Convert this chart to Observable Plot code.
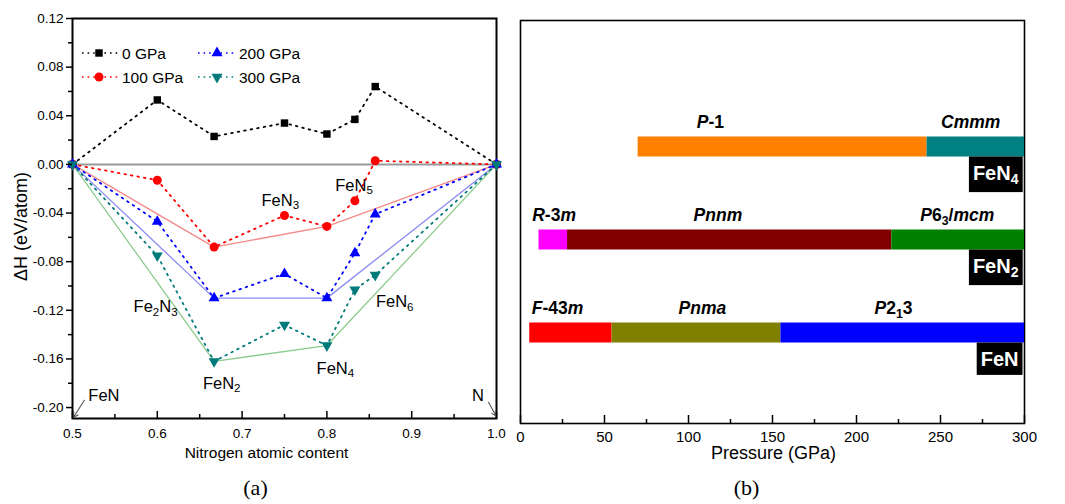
<!DOCTYPE html>
<html><head><meta charset="utf-8">
<script src="https://cdn.jsdelivr.net/npm/d3@7"></script>
<script src="https://cdn.jsdelivr.net/npm/@observablehq/plot@0.6"></script>
<style>
body{margin:0;background:#fff;}
#wrap{position:relative;width:1065px;height:504px;overflow:hidden;font-family:"Liberation Sans",Arial,sans-serif;}
#wrap > svg{position:absolute;top:0;}
</style></head><body><div id="wrap"></div>
<script>
// ---------------- data: panel (a) ----------------
const nitrogenContent = [0.5, 0.6, 0.667, 0.75, 0.8, 0.833, 0.857, 1.0];
const dH_0GPa   = [0, 0.053, 0.023, 0.034, 0.025, 0.037, 0.064, 0];
const dH_100GPa = [0, -0.013, -0.068, -0.042, -0.051, -0.030, 0.003, 0];
const dH_200GPa = [0, -0.047, -0.110, -0.090, -0.110, -0.073, -0.041, 0];
const dH_300GPa = [0, -0.075, -0.162, -0.132, -0.149, -0.103, -0.091, 0];
const hullIndex = [0, 2, 4, 7];
const seriesNames = ["0 GPa", "100 GPa", "200 GPa", "300 GPa"];
const compoundLabels = ["FeN_3", "FeN_5", "Fe_2N_3", "FeN_6", "FeN_2", "FeN_4", "FeN", "N"];
const compoundLabelX = [0.745, 0.832, 0.598, 0.880, 0.676, 0.810, 0.537, 0.978];
const compoundLabelY = [-0.0296, -0.0173, -0.1171, -0.113, -0.1804, -0.168, -0.1903, -0.190];
const arrowFrom = [[0.514, -0.194], [0.9906, -0.1956]];
const arrowTo   = [[0.5012, -0.208], [0.9995, -0.207]];
const xTicksA = [0.5, 0.6, 0.7, 0.8, 0.9, 1.0];
const xMinorA = [0.55, 0.65, 0.75, 0.85, 0.95];
const yTicksA = [-0.20, -0.16, -0.12, -0.08, -0.04, 0, 0.04, 0.08, 0.12];
const yMinorA = [-0.18, -0.14, -0.10, -0.06, -0.02, 0.02, 0.06, 0.10];

// ---------------- data: panel (b) ----------------
const compounds = ["FeN_4", "FeN_2", "FeN"];
const phaseCompound = ["FeN_4", "FeN_4", "FeN_2", "FeN_2", "FeN_2", "FeN", "FeN", "FeN"];
const phaseName = ["*P*-1", "*Cmmm*", "*R*-3*m*", "*Pnnm*", "*P*6_3/*mcm*", "*F*-43*m*", "*Pnma*", "*P*2_13"];
const phaseFrom = [70, 242, 11, 28, 221, 5.5, 54.5, 155];
const phaseTo   = [242, 300, 28, 221, 300, 54.5, 155, 300];
const phaseColor = ["#ff8000", "#008080", "#ff00ff", "#800000", "#008000", "#ff0000", "#808000", "#0000ff"];
const phaseLabelP = [113, 268, 20, 117.5, 260, 22, 108.3, 222];
const xTicksB = [0, 50, 100, 150, 200, 250, 300];
const xMinorB = [25, 75, 125, 175, 225, 275];

// ---------------- helpers ----------------
const NS = "http://www.w3.org/2000/svg";
const FONT = '"Liberation Sans", Arial, sans-serif';
const triangleDown = {
  draw(ctx, size) {
    const y = -Math.sqrt(size / (Math.sqrt(3) * 3));
    ctx.moveTo(0, -y * 2);
    ctx.lineTo(-Math.sqrt(3) * y, y);
    ctx.lineTo(Math.sqrt(3) * y, y);
    ctx.closePath();
  }
};
// markup: *...* italic, _x subscript
function richify(root) {
  root.querySelectorAll("text").forEach(t => {
    const s = t.textContent;
    if (!/[_*]/.test(s)) return;
    while (t.firstChild) t.removeChild(t.firstChild);
    let italic = false, restore = false, buf = "";
    const flush = () => {
      if (!buf) return;
      const ts = document.createElementNS(NS, "tspan");
      if (italic) ts.setAttribute("font-style", "italic");
      if (restore) { ts.setAttribute("dy", "-0.21em"); restore = false; }
      ts.textContent = buf; t.appendChild(ts); buf = "";
    };
    for (let i = 0; i < s.length; i++) {
      const c = s[i];
      if (c === "*") { flush(); italic = !italic; }
      else if (c === "_") {
        flush();
        const ts = document.createElementNS(NS, "tspan");
        ts.setAttribute("font-size", "70%");
        ts.setAttribute("dy", restore ? "0em" : "0.3em");
        ts.textContent = s[++i];
        t.appendChild(ts);
        restore = true;
      } else buf += c;
    }
    flush();
  });
}

const wrap = document.getElementById("wrap");
const H = 504;

// ---------------- panel (a) ----------------
const series = [
  {name: seriesNames[0], values: dH_0GPa,   color: "#000000", hull: null,      symbol: "square",   r: 4.2},
  {name: seriesNames[1], values: dH_100GPa, color: "#ff0000", hull: "#f48888", symbol: "circle",   r: 4.5},
  {name: seriesNames[2], values: dH_200GPa, color: "#0000ff", hull: "#8a8af2", symbol: "triangle", r: 4.1},
  {name: seriesNames[3], values: dH_300GPa, color: "#007a7a", hull: "#8ccc8c", symbol: triangleDown, r: 4.1}
];
const mA = {top: 18, right: 19, bottom: 86, left: 72};
const fhA = H - mA.top - mA.bottom;

const plotA = Plot.plot({
  width: 515, height: H,
  marginTop: mA.top, marginRight: mA.right, marginBottom: mA.bottom, marginLeft: mA.left,
  style: {fontFamily: FONT, background: "white", color: "#000", overflow: "visible"},
  x: {domain: [0.5, 1.0]},
  y: {domain: [-0.209, 0.12]},
  marks: [
    Plot.ruleY([0], {stroke: "#9a9a9a", strokeWidth: 2}),
    ...series.filter(s => s.hull).map(s => Plot.line(hullIndex, {
      x: i => nitrogenContent[i], y: i => s.values[i], stroke: s.hull, strokeWidth: 1.3
    })),
    ...series.map(s => Plot.line(nitrogenContent, {
      x: d => d, y: (d, i) => s.values[i], stroke: s.color, strokeWidth: 1.8, strokeDasharray: "1.6,5"
    })),
    Plot.frame({stroke: "#000", strokeWidth: 2}),
    ...series.map(s => Plot.dot(nitrogenContent, {
      x: d => d, y: (d, i) => s.values[i], fill: s.color, symbol: s.symbol, r: s.r
    })),
    Plot.text(compoundLabels, {
      x: (d, i) => compoundLabelX[i], y: (d, i) => compoundLabelY[i], text: d => d,
      fontSize: 16.5, fill: "#000", textAnchor: "middle", lineAnchor: "middle"
    }),
    Plot.arrow(arrowFrom, {
      x1: d => d[0], y1: d => d[1], x2: (d, i) => arrowTo[i][0], y2: (d, i) => arrowTo[i][1],
      stroke: "#555", strokeWidth: 1.1, headLength: 7
    }),
    Plot.axisY(yTicksA, {tickSize: 6, tickPadding: 3, tickFormat: d => d.toFixed(2), fontSize: 13.5, label: null, strokeWidth: 1.5}),
    Plot.axisY(yMinorA, {tickSize: 4, tickFormat: () => "", label: null, strokeWidth: 1.5}),
    Plot.ruleX(xTicksA, {insetTop: fhA - 7, stroke: "#000", strokeWidth: 1.5}),
    Plot.ruleX(xMinorA, {insetTop: fhA - 4, stroke: "#000", strokeWidth: 1.5}),
    Plot.axisX(xTicksA, {tickSize: 0, tickPadding: 10, tickFormat: d => d.toFixed(1), fontSize: 13.5, label: null}),
    Plot.text(["Nitrogen atomic content"], {frameAnchor: "bottom", dx: -18, dy: 35, fontSize: 15.5, textAnchor: "middle", lineAnchor: "middle"}),
    Plot.text(["ΔH (eV/atom)"], {frameAnchor: "left", rotate: -90, dx: -51, dy: 8, fontSize: 18, textAnchor: "middle", lineAnchor: "middle"}),
    Plot.text(["(a)"], {frameAnchor: "bottom", dx: -29, dy: 69, fontSize: 22, fontFamily: '"Liberation Serif", serif', textAnchor: "middle", lineAnchor: "middle"})
  ]
});
plotA.style.left = "0px";
wrap.appendChild(plotA);
richify(plotA);

// legend for (a)
{
  const svg = d3.select(plotA);
  const g = svg.append("g").attr("font-family", FONT).attr("font-size", 15.5).attr("text-anchor", "start");
  const cols = [{x1: 82, x2: 119, m: 99, t: 122}, {x1: 198, x2: 237, m: 217, t: 239}];
  const rows = [53, 77];
  const order = [0, 2, 1, 3];
  const syms = {square: d3.symbolSquare, circle: d3.symbolCircle, triangle: d3.symbolTriangle};
  series.forEach((s, k) => {
    const pos = order.indexOf(k);
    const c = cols[pos % 2], y = rows[Math.floor(pos / 2)];
    g.append("line").attr("x1", c.x1).attr("x2", c.x2).attr("y1", y).attr("y2", y)
      .attr("stroke", s.color).attr("stroke-width", 1.6).attr("stroke-dasharray", "1.6,4");
    const type = typeof s.symbol === "string" ? syms[s.symbol] : s.symbol;
    g.append("path").attr("d", d3.symbol(type, Math.PI * s.r * s.r)())
      .attr("transform", `translate(${c.m},${y})`).attr("fill", s.color);
    g.append("text").attr("x", c.t).attr("y", y + 5.5).attr("fill", "#000").text(s.name);
  });
}

// ---------------- panel (b) ----------------
const phases = phaseName.map((name, i) => ({
  name, compound: phaseCompound[i], from: phaseFrom[i], to: phaseTo[i], color: phaseColor[i], labelP: phaseLabelP[i]
}));
const mB = {top: 20, right: 41, bottom: 81, left: 5};
const fhB = H - mB.top - mB.bottom;
const boxDy = 27;

const plotB = Plot.plot({
  width: 550, height: H,
  marginTop: mB.top, marginRight: mB.right, marginBottom: mB.bottom, marginLeft: mB.left,
  style: {fontFamily: FONT, background: "white", color: "#000", overflow: "visible"},
  x: {domain: [0, 300]},
  y: {type: "point", domain: compounds, range: [145, 332], padding: 0, axis: null},
  color: {type: "identity"},
  marks: [
    Plot.frame({stroke: "#000", strokeWidth: 1.6}),
    Plot.ruleY(phases, {y: "compound", x1: "from", x2: "to", stroke: "color", strokeWidth: 20}),
    Plot.text(phases, {x: "labelP", y: "compound", text: "name", dy: -24, fontSize: 17.5, fontWeight: "bold",
      textAnchor: "middle", lineAnchor: "middle", fill: "#000"}),
    Plot.text(compounds, {x: () => 300, y: d => d, text: d => d, dx: -6, dy: boxDy, fontSize: 20, fontWeight: "bold",
      fill: "white", textAnchor: "end", lineAnchor: "middle"}),
    Plot.ruleX(xTicksB, {insetTop: fhB - 8, stroke: "#000", strokeWidth: 1.5}),
    Plot.ruleX(xMinorB, {insetTop: fhB - 4, stroke: "#000", strokeWidth: 1.5}),
    Plot.axisX(xTicksB, {tickSize: 0, tickPadding: 8, fontSize: 15, label: null}),
    Plot.text(["Pressure (GPa)"], {frameAnchor: "bottom", dx: 1, dy: 30, fontSize: 18, textAnchor: "middle", lineAnchor: "middle"}),
    Plot.text(["(b)"], {frameAnchor: "bottom", dx: -26, dy: 64, fontSize: 22, fontFamily: '"Liberation Serif", serif', textAnchor: "middle", lineAnchor: "middle"})
  ]
});
plotB.style.left = "515px";
wrap.appendChild(plotB);
richify(plotB);

// black boxes behind compound names
plotB.querySelectorAll('g[fill="white"] text').forEach(t => {
  const bb = t.getBBox();
  const top = 10 - boxDy;
  const rect = document.createElementNS(NS, "rect");
  rect.setAttribute("x", bb.x - 4);
  rect.setAttribute("y", top);
  rect.setAttribute("width", bb.width + 8);
  rect.setAttribute("height", bb.y + bb.height + 5 - top);
  rect.setAttribute("fill", "#000");
  const tr = t.getAttribute("transform");
  if (tr) rect.setAttribute("transform", tr);
  t.parentNode.insertBefore(rect, t);
});
</script></body></html>
